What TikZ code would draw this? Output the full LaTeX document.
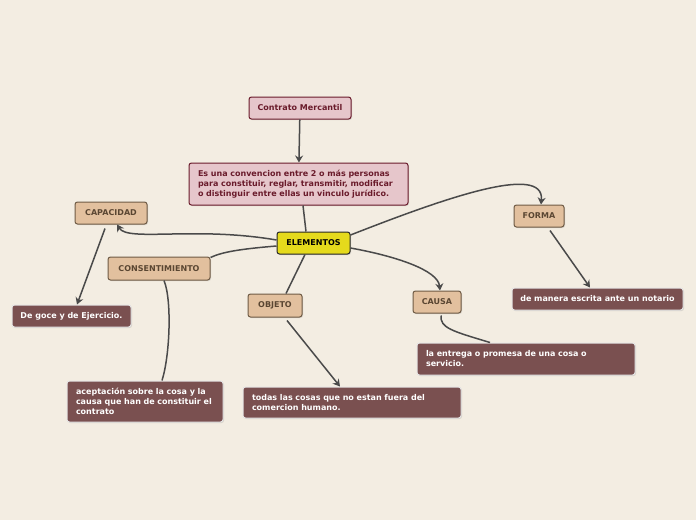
\documentclass[tikz,border=0pt]{standalone}
\usepackage{fontspec}
\setmainfont{DejaVu Sans}
\usetikzlibrary{positioning, arrows.meta, shadows}

\definecolor{bgcream}{HTML}{F3EDE2}
\definecolor{pinkfill}{HTML}{E6C6CB}
\definecolor{maroon}{HTML}{6A1B2B}
\definecolor{tanfill}{HTML}{E2C09E}
\definecolor{tanline}{HTML}{6E5A44}
\definecolor{tantext}{HTML}{5A4632}
\definecolor{yellowfill}{HTML}{E5DA1C}
\definecolor{leaffill}{HTML}{7A5050}
\definecolor{linegray}{HTML}{4A4A4A}

\begin{document}
\begin{tikzpicture}[x=1pt, y=-1pt, >={Stealth[length=7pt,width=8pt]},
    every node/.style={font=\fontsize{8}{10}\selectfont\bfseries, rounded corners=2.5pt, inner sep=0pt},
    link/.style={draw=linegray, line width=1.5pt},
    topicbox/.style={fill=pinkfill, draw=maroon, line width=1pt, text=maroon, drop shadow={opacity=0.25, shadow xshift=1pt, shadow yshift=-1pt}},
    mainbox/.style={fill=yellowfill, draw=black!85, line width=1pt, text=black, drop shadow={opacity=0.25, shadow xshift=1pt, shadow yshift=-1pt}},
    subbox/.style={fill=tanfill, draw=tanline, line width=1pt, text=tantext, drop shadow={opacity=0.25, shadow xshift=1pt, shadow yshift=-1pt}},
    leafbox/.style={fill=leaffill, draw=white!80!gray, line width=1pt, text=white, align=left, inner xsep=9pt, drop shadow={opacity=0.25, shadow xshift=1pt, shadow yshift=-1pt}}]

      \useasboundingbox[fill=bgcream] (0,0) rectangle (696,520);

      % Nodes
      \node[topicbox, minimum width=102pt, minimum height=22pt] (contrato) at (300,108) {Contrato Mercantil};
      \node[topicbox, minimum width=219pt, minimum height=42pt, align=left, text width=201pt, inner xsep=9pt] (definicion) at (298.5,184)
        {Es una convencion entre 2 o más personas\\para constituir, reglar, transmitir, modificar\\o distinguir entre ellas un vinculo jurídico.};
      \node[mainbox, minimum width=73pt, minimum height=22pt] (elementos) at (313.5,243) {ELEMENTOS};

      \node[subbox, minimum width=72pt, minimum height=22pt] (capacidad) at (111,213) {CAPACIDAD};
      \node[subbox, minimum width=102pt, minimum height=23pt] (consentimiento) at (159,268.5) {CONSENTIMIENTO};
      \node[subbox, minimum width=54pt, minimum height=23pt] (objeto) at (275,305.5) {OBJETO};
      \node[subbox, minimum width=48pt, minimum height=22pt] (causa) at (437,302) {CAUSA};
      \node[subbox, minimum width=50pt, minimum height=22pt] (forma) at (539,216) {FORMA};

      \node[leafbox, minimum width=119pt, minimum height=22pt, inner xsep=0pt] (goce) at (71.5,316) {De goce y de Ejercicio.};
      \node[leafbox, minimum width=156pt, minimum height=41pt, text width=138pt] (aceptacion) at (145,401.5)
        {aceptación sobre la cosa y la\\causa que han de constituir el\\contrato};
      \node[leafbox, minimum width=218pt, minimum height=31pt, text width=200pt] (cosas) at (352,402.5)
        {todas las cosas que no estan fuera del\\comercion humano.};
      \node[leafbox, minimum width=218pt, minimum height=32pt, text width=200pt] (entrega) at (526,359)
        {la entrega o promesa de una cosa o\\servicio.};
      \node[leafbox, minimum width=171pt, minimum height=22pt, inner xsep=0pt] (notario) at (597.5,299) {de manera escrita ante un notario};

      % Edges
      \draw[link, ->] (contrato) -- (definicion);
      \draw[link] ([xshift=4.5pt]definicion.south) -- ([xshift=-7.5pt]elementos.north);
      \draw[link, ->] ([yshift=3pt]elementos.west) .. controls (195,226) and (128,242) .. ([xshift=6pt]capacidad.south);
      \draw[link] ([yshift=-3pt]elementos.west) .. controls (240,249) and (222,252) .. ([yshift=-1pt]consentimiento.north east);
      \draw[link] ([xshift=-8.5pt]elementos.south) -- ([xshift=11pt]objeto.north);
      \draw[link, ->] ([yshift=-5pt]elementos.east) .. controls (395,256) and (438,270) .. ([xshift=3pt]causa.north);
      \draw[link, ->] ([yshift=8pt]elementos.east) .. controls (440,200) and (545,162) .. ([xshift=2pt]forma.north);

      \draw[link, ->] ([xshift=-6pt, yshift=-4pt]capacidad.south) -- ([xshift=5.5pt]goce.north);
      \draw[link] ([xshift=5pt]consentimiento.south) .. controls (172,300) and (170,355) .. ([xshift=17pt]aceptacion.north);
      \draw[link, ->] ([xshift=12pt, yshift=-3pt]objeto.south) -- ([xshift=-12pt]cosas.north);
      \draw[link] ([xshift=4pt, yshift=-2pt]causa.south) .. controls (440,328) and (452,331) .. ([xshift=-36pt]entrega.north);
      \draw[link, ->] ([xshift=11pt, yshift=-3pt]forma.south) -- ([xshift=-7.5pt]notario.north);

\end{tikzpicture}
\end{document}
